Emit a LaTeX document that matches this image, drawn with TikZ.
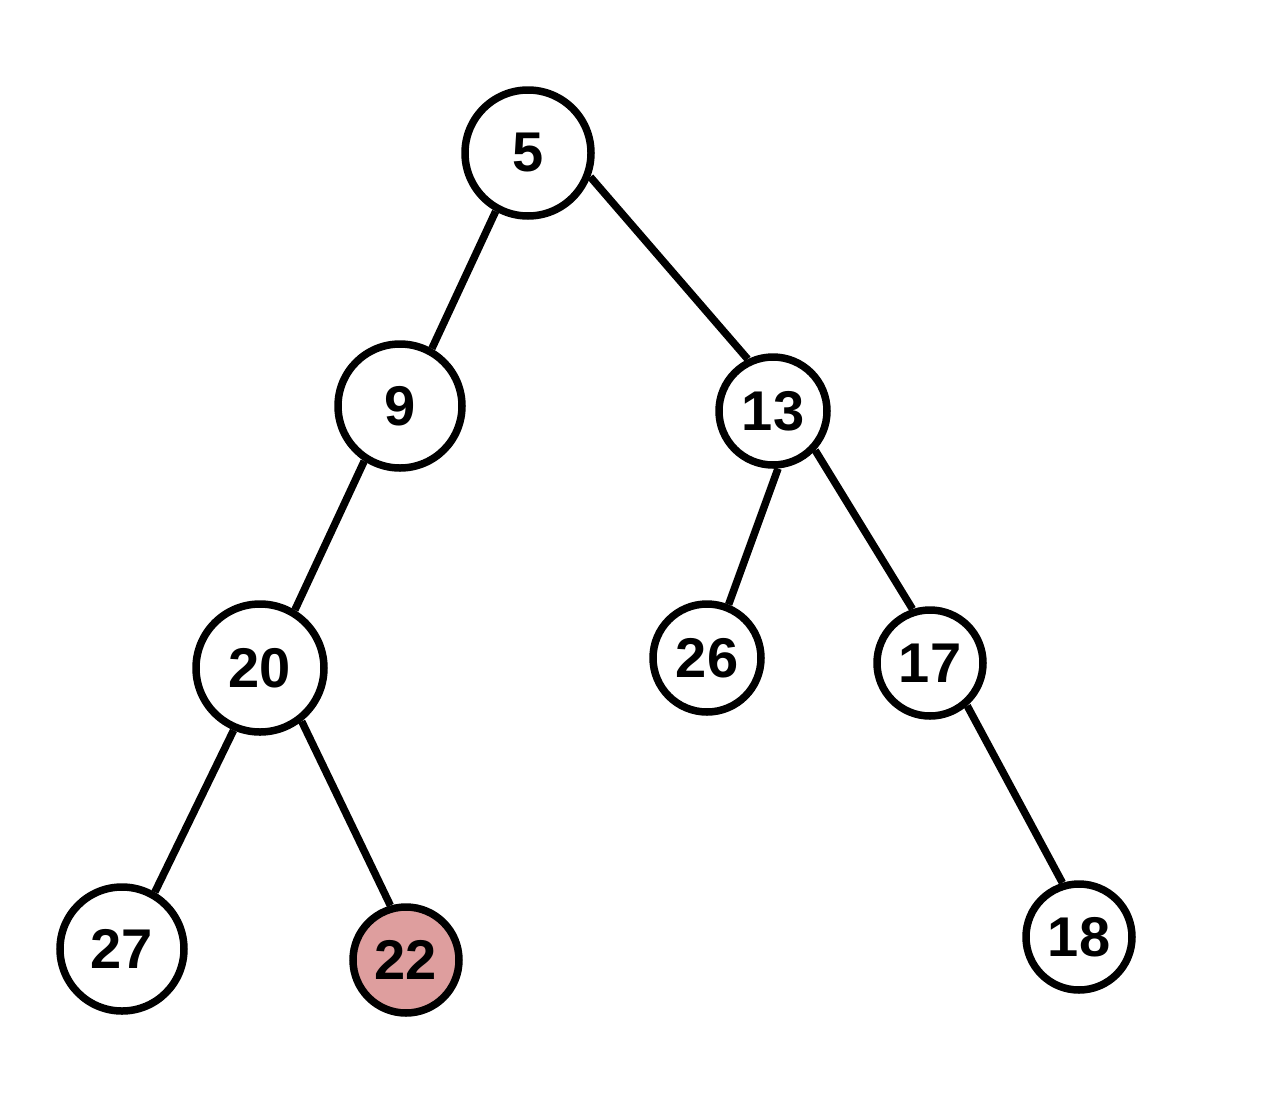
\documentclass[tikz,border=0pt]{standalone}
\usepackage{fontspec}
\setmainfont{Liberation Sans}
\definecolor{hl}{HTML}{DE9E9E}
\begin{document}
\begin{tikzpicture}[x=1pt,y=-1pt,
  nd/.style={circle,draw=black,line width=7.5pt,fill=white,inner sep=0pt,font=\fontsize{56}{56}\selectfont\bfseries},
  ed/.style={line width=7.5pt,draw=black}]
\useasboundingbox (0,0) rectangle (1266,1114);
\node[nd,minimum size=126pt] (n5) at (528,153) {5};
\node[nd,minimum size=124pt] (n9) at (400,406) {9};
\node[nd,minimum size=108pt] (n13) at (773,411) {13};
\node[nd,minimum size=128pt] (n20) at (260,668) {20};
\node[nd,minimum size=108pt] (n26) at (707,658) {26};
\node[nd,minimum size=106pt] (n17) at (930,663) {17};
\node[nd,minimum size=124pt] (n27) at (122,949) {27};
\node[nd,minimum size=106pt,fill=hl] (n22) at (406,960) {22};
\node[nd,minimum size=106pt] (n18) at (1079,937) {18};
\draw[ed] (n5.-119) -- (n9.61);
\draw[ed] (n5.-21) -- (n13.116);
\draw[ed] (n9.-123) -- (n20.59);
\draw[ed] (n13.-85) -- (n26.68);
\draw[ed] (n13.-43) -- (n17.108);
\draw[ed] (n20.-113) -- (n27.60);
\draw[ed] (n20.-52) -- (n22.106);
\draw[ed] (n17.-49) -- (n18.107);
\end{tikzpicture}
\end{document}
